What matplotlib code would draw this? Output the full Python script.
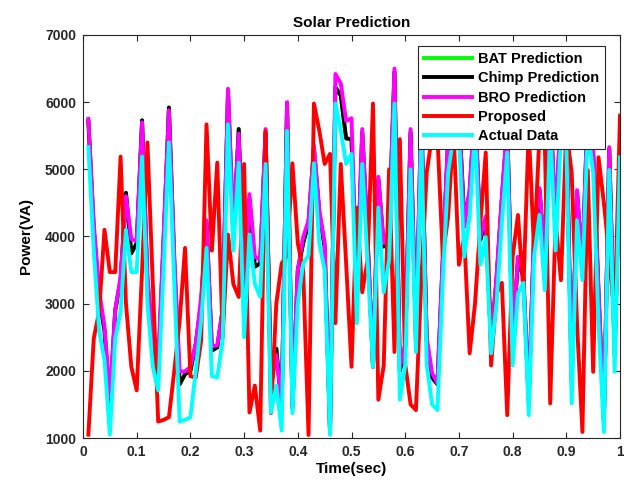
import numpy as np
import matplotlib
matplotlib.use("Agg")
import matplotlib.pyplot as plt

time_sec = np.round(np.arange(1, 101) * 0.01, 2)

actual = [5330, 3800, 2600, 2160, 1050, 2480, 2880, 4100, 3470, 3470,
          5190, 3000, 2060, 1710, 3500, 5400, 3300, 1245, 1270, 1310,
          2000, 2750, 3830, 1920, 1900, 2450, 5670, 3790, 5100, 2500,
          4030, 3290, 3100, 5080, 1380, 1780, 1110, 5570, 1370, 3000,
          3600, 3720, 5090, 3900, 3500, 1045, 5980, 5580, 5080, 5230,
          2710, 5080, 3600, 2060, 4430, 3170, 3650, 5980, 1570, 2080,
          5000, 2280, 5450, 2100, 1500, 1415, 3350, 4950, 5500, 5500,
          3700, 4300, 5600, 3580, 3990, 2260, 3000, 4200, 5250, 2080,
          3150, 3310, 1340, 3700, 4320, 3200, 5600, 3790, 5500, 5400,
          1515, 4240, 3350, 5600, 4950, 2700, 1090, 4990, 1985, 5180]

proposed = [1050, 2480, 2880, 4100, 3470, 3470, 5190, 3000, 2060, 1710,
            3500, 5400, 3300, 1245, 1270, 1310, 2000, 2750, 3830, 1920,
            1900, 2450, 5670, 3790, 5100, 2500, 4030, 3290, 3100, 5080,
            1380, 1780, 1110, 5570, 1370, 3000, 3600, 3720, 5090, 3900,
            3500, 1045, 5980, 5580, 5080, 5230, 2710, 5080, 3600, 2060,
            4430, 3170, 3650, 5980, 1570, 2080, 5000, 2280, 5450, 2100,
            1500, 1415, 3350, 4950, 5500, 5500, 3700, 4300, 5600, 3580,
            3990, 2260, 3000, 4200, 5250, 2080, 3150, 3310, 1340, 3700,
            4320, 3200, 5600, 3790, 5500, 5400, 1515, 4240, 3350, 5600,
            4950, 2700, 1090, 4990, 1985, 5180, 4500, 3700, 2750, 5800]

bro = [5750, 4200, 3200, 2660, 1610, 2900, 3400, 4600, 3960, 3930,
       5700, 3400, 2500, 2110, 4000, 5880, 3700, 1990, 1990, 2060,
       2400, 3100, 4240, 2360, 2380, 2900, 6200, 4100, 5530, 3000,
       4630, 3700, 3650, 5600, 1800, 2235, 1500, 6000, 1500, 3500,
       3990, 4240, 5350, 4400, 3900, 1100, 6420, 6280, 5720, 5760,
       3200, 5600, 4000, 2060, 4890, 3900, 4100, 6500, 2060, 2400,
       5600, 2500, 5900, 2500, 1967, 1815, 3700, 5500, 5900, 5900,
       4140, 4700, 6000, 4000, 4300, 2460, 3400, 4600, 5700, 2500,
       3700, 3450, 1600, 4100, 4720, 3700, 6000, 4200, 5900, 5800,
       1900, 4690, 3600, 6000, 5300, 3200, 1300, 5330, 2300, 5300]

chimp = [5720, 4100, 3100, 2600, 1500, 2900, 3350, 4650, 3750, 3900,
         5730, 3300, 2450, 2000, 3900, 5920, 3600, 1800, 1950, 2000,
         2400, 3000, 4200, 2300, 2350, 2900, 6150, 4000, 5600, 2950,
         4550, 3550, 3600, 5550, 1750, 2330, 1450, 5990, 1450, 3500,
         3900, 4200, 5300, 4350, 3850, 1080, 6220, 6100, 5460, 5450,
         3150, 5550, 3950, 2060, 4850, 3850, 4050, 6450, 2000, 2350,
         5550, 2450, 5850, 2450, 1900, 1800, 3650, 5450, 5850, 5850,
         4250, 4650, 5950, 3950, 4250, 2400, 3350, 4550, 5650, 2450,
         3650, 3400, 1550, 4050, 4700, 3650, 5950, 4150, 5850, 5750,
         1850, 4650, 3550, 5950, 5250, 3150, 1250, 5300, 2250, 5250]

bat = [5720, 4100, 3100, 2600, 1500, 2900, 3350, 4650, 3750, 3900,
       5730, 3300, 2450, 2000, 3900, 5920, 3600, 1800, 1950, 2000,
       2400, 3000, 4200, 2300, 2350, 2900, 6150, 4000, 5600, 2950,
       4550, 3550, 3600, 5550, 1750, 2330, 1450, 5990, 1450, 3500,
       3900, 4200, 5300, 4350, 3850, 1080, 6220, 6100, 5460, 5450,
       3150, 5550, 3950, 2060, 4850, 3850, 4050, 6450, 2000, 2350,
       5550, 2450, 5850, 2450, 1900, 1800, 3650, 5450, 5850, 5850,
       4250, 4650, 5950, 3950, 4250, 2400, 3350, 4550, 5650, 2450,
       3650, 3400, 1550, 4050, 4700, 3650, 5950, 4150, 5850, 5750,
       1850, 4650, 3550, 5950, 5250, 3150, 1250, 5300, 2250, 5250]

x_ticks = [0, 0.1, 0.2, 0.3, 0.4, 0.5, 0.6, 0.7, 0.8, 0.9, 1]
x_tick_labels = ["0", "0.1", "0.2", "0.3", "0.4", "0.5", "0.6", "0.7", "0.8", "0.9", "1"]
y_ticks = [1000, 2000, 3000, 4000, 5000, 6000, 7000]

plt.rcParams['font.family'] = ['Liberation Sans', 'DejaVu Sans']

fig = plt.figure(figsize=(6.24, 4.88), dpi=100)
ax = fig.add_axes([83 / 624, 50 / 488, 537 / 624, 403 / 488])

lw = 2.8
ax.plot(time_sec, bat, color='#00FF00', lw=lw, label='BAT Prediction')
ax.plot(time_sec, chimp, color='#000000', lw=lw, label='Chimp Prediction')
ax.plot(time_sec, bro, color='#FF00FF', lw=lw, label='BRO Prediction')
ax.plot(time_sec, proposed, color='#FF0000', lw=lw, label='Proposed')
ax.plot(time_sec, actual, color='#00FFFF', lw=lw, label='Actual Data')

ax.set_xlim(0, 1)
ax.set_ylim(1000, 7000)
ax.set_xticks(x_ticks)
ax.set_xticklabels(x_tick_labels)
ax.set_yticks(y_ticks)
ax.tick_params(direction='in', top=True, right=True, length=4, width=0.8,
               labelsize=10, colors='#262626', pad=5)
for lab in ax.get_xticklabels() + ax.get_yticklabels():
    lab.set_fontweight('bold')
for sp in ax.spines.values():
    sp.set_color('#262626')
    sp.set_linewidth(0.8)

ax.set_title('Solar Prediction', fontsize=11, fontweight='bold', pad=6)
ax.set_xlabel('Time(sec)', fontsize=11, fontweight='bold', labelpad=2)
ax.set_ylabel('Power(VA)', fontsize=11, fontweight='bold', labelpad=9)

leg = ax.legend(loc='upper right', bbox_to_anchor=(522 / 537, 392 / 403),
                borderaxespad=0, fancybox=False, framealpha=1,
                edgecolor='#262626', handlelength=3.3, handletextpad=0.4,
                labelspacing=0.37, borderpad=0.4,
                prop={'weight': 'bold', 'size': 10.5})
leg.get_frame().set_linewidth(0.8)

fig.savefig('out.png', dpi=100)
